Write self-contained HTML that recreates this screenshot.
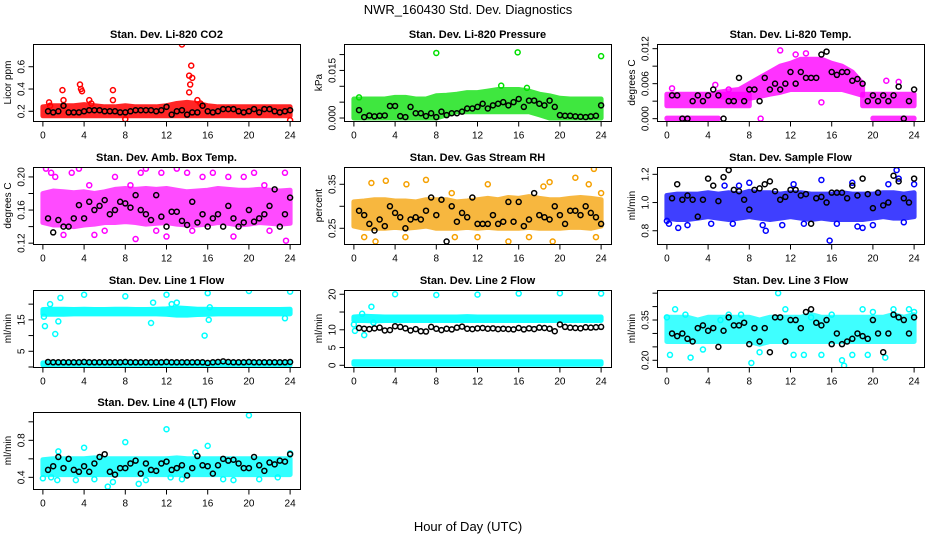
<!DOCTYPE html>
<html><head><meta charset="utf-8"><style>
body{margin:0;background:#fff;}
svg{display:block;font-family:"Liberation Sans",Arial,sans-serif;}
</style></head><body>
<svg id="chart" width="936" height="540" viewBox="0 0 936 540">
<rect width="936" height="540" fill="#fff"/>
<text x="468" y="14" text-anchor="middle" font-size="13">NWR_160430  Std. Dev. Diagnostics</text>
<text x="468" y="531" text-anchor="middle" font-size="13">Hour of Day (UTC)</text>
</svg>
<script>
// ---- shared data ----
const bandHours = [0,1,2,3,4,5,6,7,8,9,10,11,12,13,14,15,16,17,18,19,20,21,22,23,24];
const blackHours = [0.5,1,1.5,2,2.5,3,3.5,4,4.5,5,5.5,6,6.5,7,7.5,8,8.5,9,9.5,10,10.5,11,11.5,12,12.5,13,13.5,14,14.5,15,15.5,16,16.5,17,17.5,18,18.5,19,19.5,20,20.5,21,21.5,22,22.5,23,23.5,24];
const xTicks = [0,4,8,12,16,20,24];

// CO2
const co2Lo = [0.16,0.16,0.16,0.16,0.16,0.16,0.16,0.16,0.16,0.16,0.16,0.16,0.16,0.16,0.16,0.16,0.16,0.16,0.16,0.16,0.16,0.16,0.16,0.16,0.16];
const co2Hi = [0.24,0.25,0.25,0.25,0.26,0.25,0.24,0.24,0.25,0.24,0.24,0.24,0.25,0.27,0.28,0.27,0.25,0.24,0.24,0.24,0.24,0.24,0.24,0.24,0.24];
const co2OutH = [0.6,0.7,1.9,2,3.6,3.7,3.8,4.5,4.7,6.8,6.8,8,13.5,14.2,14.3,14.4,14.5,14.2,15,15.3,24];
const co2OutV = [0.28,0.25,0.39,0.3,0.44,0.4,0.38,0.3,0.27,0.39,0.3,0.13,0.8,0.52,0.44,0.61,0.5,0.37,0.3,0.27,0.12];
const co2Black = [0.2,0.19,0.2,0.25,0.19,0.19,0.19,0.2,0.21,0.21,0.21,0.2,0.2,0.2,0.19,0.19,0.2,0.21,0.21,0.21,0.21,0.2,0.21,0.24,0.17,0.2,0.21,0.17,0.19,0.19,0.25,0.2,0.19,0.2,0.22,0.22,0.22,0.2,0.19,0.2,0.22,0.19,0.22,0.22,0.2,0.19,0.2,0.21];

// Pressure
const presLo = [0,0,0,0,0,0,0,0,0,0.001,0.002,0.002,0.002,0.002,0.002,0.002,0.002,0.002,0.001,0,0,0,0,0,0];
const presHi = [0.006,0.006,0.006,0.006,0.0065,0.0065,0.006,0.006,0.007,0.0072,0.0075,0.008,0.008,0.0085,0.009,0.009,0.009,0.0085,0.0075,0.007,0.0062,0.006,0.006,0.006,0.006];
const presOutH = [8,15.9,24,14.3,0.5,16.8];
const presOutV = [0.0205,0.0207,0.0195,0.0102,0.0065,0.0095];
const presBlack = [0.0025,0.0003,0.0008,0.0005,0.0007,0.0008,0.0038,0.0038,0.0006,0.0003,0.0035,0.0015,0.0015,0.0006,0.0015,0.0003,0.002,0.0009,0.0015,0.0015,0.002,0.003,0.003,0.0035,0.0045,0.003,0.004,0.0045,0.005,0.004,0.005,0.006,0.0035,0.0055,0.0055,0.0045,0.004,0.0055,0.0035,0.0009,0.0007,0.0007,0.0005,0.0004,0.0003,0.0005,0.0007,0.004];

// Li-820 Temp (null = no data at that hour)
const tempDayLo = [null,null,null,null,null,0.0038,0.0036,0.0036,0.0035,0.0038,0.0042,0.0045,0.005,0.005,0.005,0.005,0.005,0.005,0.0045,0.004,null,null,null,null,null];
const tempDayHi = [null,null,null,null,null,0.0045,0.0048,0.005,0.006,0.007,0.008,0.009,0.0095,0.0102,0.0102,0.0102,0.0095,0.009,0.008,0.006,null,null,null,null,null];
const tempMidLo = [0.0022,0.0022,0.0022,0.0022,0.0022,0.0022,0.0022,0.0022,0.0022,null,null,null,null,null,null,null,null,null,null,0.0022,0.0022,0.0022,0.0022,0.0022,0.0022];
const tempMidHi = [0.0042,0.0042,0.0042,0.0042,0.0042,0.0042,0.0042,0.0042,0.0042,null,null,null,null,null,null,null,null,null,null,0.0042,0.0042,0.0042,0.0042,0.0042,0.0042];
const tempZeroLo = [0,0,0,0,0,0,null,null,null,null,null,null,null,null,null,null,null,null,null,null,0,0,0,0,0];
const tempZeroHi = [0.0001,0.0001,0.0001,0.0001,0.0001,0.0001,null,null,null,null,null,null,null,null,null,null,null,null,null,null,0.0001,0.0001,0.0001,0.0001,0.0001];
const tempOutH = [11,12.5,6,4.7,21.3,9.1,22.5,15,0.5,13.5];
const tempOutV = [0.0117,0.011,0.005,0.0058,0.0065,0,0.0063,0.0028,0.0052,0.0112];
const tempBlack = [0.004,0.004,0,0,0.003,0.004,0.003,0.004,0.005,0.004,0,0.003,0.003,0.007,0.003,0.005,0.005,0.003,0.007,0.005,0.006,0.005,0.006,0.008,0.006,0.008,0.007,0.007,0.007,0.011,0.0115,0.008,0.0075,0.008,0.008,0.0065,0.0068,0.006,0.003,0.004,0.003,0.004,0.003,0.004,0.0055,0,0.003,0.005];

// Amb Box Temp
const ambLo = [0.145,0.142,0.142,0.14,0.142,0.143,0.145,0.145,0.146,0.145,0.143,0.144,0.145,0.143,0.142,0.142,0.143,0.145,0.144,0.142,0.143,0.145,0.144,0.143,0.144];
const ambHi = [0.18,0.183,0.182,0.181,0.182,0.18,0.182,0.185,0.186,0.185,0.186,0.185,0.186,0.184,0.182,0.183,0.184,0.186,0.185,0.184,0.184,0.185,0.184,0.183,0.184];
const ambOutH = [0.3,0.8,1.2,2.8,3.5,5,7,8.5,9,9.5,10,11.5,12,13,14,15.5,16.5,18,18.5,19.5,20.5,21.5,23.5,23.6,2,6,14.5,22,4.5,11];
const ambOutV = [0.21,0.205,0.2,0.205,0.21,0.13,0.2,0.19,0.125,0.205,0.21,0.205,0.128,0.21,0.205,0.2,0.205,0.2,0.128,0.2,0.205,0.19,0.205,0.123,0.13,0.135,0.135,0.135,0.19,0.135];
const ambBlack = [0.15,0.133,0.148,0.14,0.14,0.15,0.166,0.15,0.17,0.16,0.165,0.172,0.155,0.16,0.17,0.168,0.163,0.178,0.16,0.155,0.148,0.178,0.152,0.14,0.158,0.158,0.147,0.142,0.17,0.145,0.155,0.14,0.15,0.155,0.14,0.165,0.15,0.14,0.145,0.16,0.146,0.15,0.155,0.165,0.185,0.14,0.155,0.175];

// Gas Stream RH
const rhLo = [0.255,0.25,0.25,0.25,0.252,0.25,0.252,0.255,0.25,0.25,0.25,0.252,0.25,0.252,0.25,0.25,0.25,0.252,0.25,0.25,0.25,0.252,0.252,0.25,0.255];
const rhHi = [0.31,0.312,0.315,0.315,0.312,0.312,0.31,0.315,0.315,0.315,0.31,0.312,0.315,0.318,0.315,0.32,0.318,0.322,0.318,0.315,0.315,0.318,0.32,0.318,0.315];
const rhOutH = [1.7,2.1,3.1,5.1,9.5,9.8,12,13,15,17,18.4,19,19.3,21.5,22.8,23.3,23.5,5,7,1,24];
const rhOutV = [0.353,0.22,0.358,0.35,0.33,0.23,0.23,0.35,0.22,0.23,0.345,0.355,0.22,0.365,0.35,0.385,0.23,0.23,0.36,0.23,0.33];
const rhBlack = [0.29,0.28,0.26,0.245,0.27,0.255,0.3,0.285,0.275,0.25,0.27,0.275,0.27,0.29,0.32,0.28,0.315,0.22,0.3,0.265,0.285,0.275,0.32,0.26,0.26,0.26,0.28,0.26,0.265,0.31,0.265,0.31,0.255,0.27,0.33,0.28,0.275,0.27,0.3,0.28,0.26,0.29,0.29,0.28,0.3,0.285,0.275,0.26];

// Sample Flow
const sfLo = [0.89,0.88,0.88,0.89,0.9,0.89,0.88,0.89,0.9,0.89,0.88,0.89,0.9,0.89,0.88,0.89,0.88,0.88,0.88,0.88,0.89,0.9,0.89,0.89,0.9];
const sfHi = [1.05,1.06,1.06,1.06,1.07,1.06,1.07,1.06,1.08,1.07,1.07,1.06,1.07,1.07,1.06,1.06,1.06,1.07,1.06,1.06,1.06,1.07,1.07,1.06,1.07];
const sfOutH = [0,0.2,1.1,2,4.3,5.6,6.4,8,9.3,9.6,11.2,12.3,13.3,15,15.8,16.5,18,18.5,19,20,21.5,22.3,22.5,23,24,7];
const sfOutV = [0.87,0.85,0.82,0.84,0.85,1.12,0.85,1.14,0.84,0.8,0.84,1.13,0.85,1.16,0.73,0.85,1.14,0.83,0.82,0.84,1.13,1.23,1.17,0.86,1.13,1.12];
const sfBlack = [1.03,1.13,1.02,1.05,1.02,0.9,1.02,1.17,1.12,1.01,1.18,1.23,1.09,1.08,1.02,0.95,1.09,1.1,1.13,1.15,1.08,1.02,1.04,1.09,1.09,1.05,1.06,0.85,1.03,1.04,1.0,1.07,1.07,1.07,1.03,1.12,1.05,1.17,1.06,0.96,1.07,0.98,1.0,1.19,1.15,1.03,1.0,1.17];

// Line 1 Flow
const l1UpLo = [16.8,16.8,16.8,16.9,16.9,16.9,16.9,16.9,16.9,16.9,16.9,16.9,16.8,16.5,16.5,16.7,16.8,16.9,16.9,16.9,16.9,16.9,16.9,16.9,16.9];
const l1UpHi = [18.3,18.4,18.4,18.3,18.4,18.3,18.3,18.4,18.4,18.3,18.3,18.4,18.5,18.8,18.6,18.4,18.4,18.3,18.3,18.3,18.3,18.3,18.3,18.3,18.4];
const l1LoLo = [0.7,0.7,0.7,0.7,0.7,0.7,0.7,0.7,0.7,0.7,0.7,0.7,0.7,0.7,0.7,0.7,0.7,0.7,0.7,0.7,0.7,0.7,0.7,0.7,0.7];
const l1LoHi = [1.3,1.3,1.3,1.3,1.3,1.3,1.3,1.3,1.3,1.3,1.3,1.3,1.3,1.3,1.3,1.3,1.3,1.3,1.3,1.3,1.3,1.3,1.3,1.3,1.3];
const l1OutH = [0.1,0.2,0.7,1.7,1.5,4,8,10.5,10.7,12,12.5,13,15.7,16,16.1,16.2,20,24,23.5,1.2];
const l1OutV = [16,13,20,22,14.5,23,22.5,14,20.5,23,20,20.5,10,23.5,15,19,24.2,24,15.5,10.5];
const l1Black = [1.6,1.5,1.5,1.5,1.5,1.5,1.5,1.6,1.5,1.5,1.5,1.5,1.5,1.5,1.5,1.6,1.5,1.5,1.5,1.5,1.5,1.5,1.5,1.6,1.5,1.5,1.5,1.5,1.5,1.5,1.5,1.3,1.5,1.6,1.8,1.6,1.5,1.5,1.5,1.6,1.5,1.5,1.5,1.5,1.5,1.5,1.5,1.6];

// Line 2 Flow
const l2UpLo = [12.6,12.6,12.5,12.6,12.6,12.6,12.6,12.6,12.6,12.6,12.6,12.6,12.6,12.6,12.6,12.6,12.6,12.6,12.6,12.6,12.6,12.6,12.6,12.6,12.6];
const l2UpHi = [13.6,13.8,13.7,13.6,13.6,13.6,13.6,13.6,13.6,13.6,13.6,13.7,13.6,13.6,13.6,13.6,13.6,13.6,13.6,13.6,13.6,13.6,13.6,13.6,13.6];
const l2LoLo = [0.3,0.3,0.3,0.3,0.3,0.3,0.3,0.3,0.3,0.3,0.3,0.3,0.3,0.3,0.3,0.3,0.3,0.3,0.3,0.3,0.3,0.3,0.3,0.3,0.3];
const l2LoHi = [1,1,1,1,1,1,1,1,1,1,1,1,1,1,1,1,1,1,1,1,1,1,1,1,1];
const l2OutH = [0,0.1,0.8,1,1.7,4,8,12,16,20,24,1.9];
const l2OutV = [11.5,9.7,14.5,8.5,16.5,20,19.8,19.9,20.2,20.3,20.2,12];
const l2Black = [10.5,10.3,10.2,10.4,10.6,9.8,9.9,11,10.8,10.4,9.8,10.2,9.6,9.5,10.8,10.3,9.9,10.3,10.1,10.6,10.9,10.3,10.2,10.4,10.5,10.3,10.4,10.2,10.3,10.2,10.1,10.5,10.1,10.4,10.2,10.6,10.5,10.3,9.6,11.5,10.8,10.6,10.5,10.4,10.7,10.6,10.7,10.8];

// Line 3 Flow
const l3Lo = [0.27,0.27,0.27,0.27,0.27,0.27,0.27,0.27,0.27,0.26,0.27,0.27,0.27,0.27,0.27,0.27,0.27,0.27,0.27,0.27,0.27,0.27,0.27,0.27,0.27];
const l3Hi = [0.36,0.36,0.36,0.35,0.36,0.36,0.36,0.36,0.36,0.35,0.36,0.36,0.36,0.36,0.37,0.36,0.36,0.36,0.36,0.36,0.36,0.36,0.37,0.36,0.37];
const l3OutH = [0,0.3,0.8,1.8,2.3,3.5,5.2,6,7.2,8.2,9,10.8,11.5,12.3,13.3,14,15,16,17,17.2,18,19,19.5,20,21.2,22,23.5,24];
const l3OutV = [0.36,0.22,0.39,0.37,0.21,0.24,0.35,0.37,0.37,0.19,0.23,0.45,0.39,0.22,0.22,0.36,0.22,0.37,0.2,0.18,0.22,0.39,0.22,0.38,0.21,0.39,0.39,0.38];
const l3Black = [0.3,0.29,0.3,0.28,0.27,0.32,0.33,0.31,0.32,0.25,0.31,0.36,0.33,0.33,0.34,0.26,0.32,0.27,0.32,0.23,0.36,0.36,0.27,0.35,0.35,0.32,0.38,0.39,0.34,0.33,0.35,0.26,0.3,0.26,0.27,0.28,0.3,0.29,0.28,0.35,0.3,0.23,0.3,0.37,0.36,0.35,0.3,0.36];

// Line 4 Flow
const l4Lo = [0.43,0.43,0.43,0.43,0.43,0.43,0.43,0.43,0.43,0.43,0.43,0.43,0.43,0.43,0.43,0.43,0.43,0.43,0.43,0.43,0.43,0.43,0.43,0.43,0.43];
const l4Hi = [0.59,0.6,0.6,0.6,0.6,0.61,0.6,0.6,0.6,0.6,0.6,0.6,0.6,0.61,0.6,0.6,0.6,0.6,0.6,0.6,0.6,0.6,0.6,0.6,0.6];
const l4OutH = [0,0.8,1.4,3.2,4,5,6.3,6.8,8,9.3,10,12,12.4,13.5,16,17.5,18.5,20,21,22.8,24,1.5,14.8];
const l4OutV = [0.39,0.4,0.37,0.37,0.72,0.38,0.3,0.35,0.78,0.33,0.37,0.92,0.4,0.38,0.74,0.38,0.37,1.07,0.38,0.4,0.66,0.68,0.67];
const l4Black = [0.48,0.52,0.62,0.5,0.6,0.48,0.46,0.52,0.46,0.55,0.62,0.65,0.46,0.43,0.5,0.5,0.55,0.58,0.44,0.55,0.48,0.47,0.55,0.57,0.48,0.5,0.53,0.42,0.5,0.63,0.53,0.52,0.44,0.53,0.6,0.58,0.59,0.55,0.5,0.5,0.62,0.53,0.47,0.56,0.54,0.58,0.57,0.65];

const panels = [
 {name:'co2',title:'Stan. Dev. Li-820 CO2',ylab:'Licor ppm',col:0,row:0,yr:[0.113,0.804],ticks:[0.2,0.4,0.6],labs:['0.2','0.4','0.6'],color:'#ff0000',op:0.85,bands:[[co2Lo,co2Hi]],oh:co2OutH,ov:co2OutV,blk:co2Black},
 {name:'pressure',title:'Stan. Dev. Li-820 Pressure',ylab:'kPa',col:1,row:0,yr:[-0.00094,0.02333],ticks:[0,0.005,0.01,0.015,0.02],labs:['0.000','','','0.015',''],color:'#00e000',op:0.75,bands:[[presLo,presHi]],oh:presOutH,ov:presOutV,blk:presBlack},
 {name:'li820-temp',title:'Stan. Dev. Li-820 Temp.',ylab:'degrees C',col:2,row:0,yr:[-0.0004,0.0128],ticks:[0,0.003,0.006,0.009,0.012],labs:['0.000','','0.006','','0.012'],color:'#ff00ff',op:0.8,bands:[[tempDayLo,tempDayHi],[tempMidLo,tempMidHi],[tempZeroLo,tempZeroHi]],oh:tempOutH,ov:tempOutV,blk:tempBlack},
 {name:'amb-box-temp',title:'Stan. Dev. Amb. Box Temp.',ylab:'degrees C',col:0,row:1,yr:[0.119,0.212],ticks:[0.12,0.14,0.16,0.18,0.2],labs:['0.12','','0.16','','0.20'],color:'#ff00ff',op:0.7,bands:[[ambLo,ambHi]],oh:ambOutH,ov:ambOutV,blk:ambBlack},
 {name:'gas-stream-rh',title:'Stan. Dev. Gas Stream RH',ylab:'percent',col:1,row:1,yr:[0.2143,0.3893],ticks:[0.25,0.3,0.35],labs:['0.25','','0.35'],color:'#f5a000',op:0.75,bands:[[rhLo,rhHi]],oh:rhOutH,ov:rhOutV,blk:rhBlack},
 {name:'sample-flow',title:'Stan. Dev. Sample Flow',ylab:'ml/min',col:2,row:1,yr:[0.706,1.252],ticks:[0.8,1.0,1.2],labs:['0.8','1.0','1.2'],color:'#0000ff',op:0.75,bands:[[sfLo,sfHi]],oh:sfOutH,ov:sfOutV,blk:sfBlack},
 {name:'line1-flow',title:'Stan. Dev. Line 1 Flow',ylab:'ml/min',col:0,row:2,yr:[0,24.5],ticks:[0,5,10,15,20],labs:['','5','','15',''],color:'#00ffff',op:0.9,bands:[[l1UpLo,l1UpHi],[l1LoLo,l1LoHi]],oh:l1OutH,ov:l1OutV,blk:l1Black},
 {name:'line2-flow',title:'Stan. Dev. Line 2 Flow',ylab:'ml/min',col:1,row:2,yr:[-0.48,21.2],ticks:[0,5,10,15,20],labs:['0','5','10','','20'],color:'#00ffff',op:0.9,bands:[[l2UpLo,l2UpHi],[l2LoLo,l2LoHi]],oh:l2OutH,ov:l2OutV,blk:l2Black},
 {name:'line3-flow',title:'Stan. Dev. Line 3 Flow',ylab:'ml/min',col:2,row:2,yr:[0.175,0.4618],ticks:[0.2,0.25,0.3,0.35,0.4,0.45],labs:['0.20','','','0.35','',''],color:'#00ffff',op:0.75,bands:[[l3Lo,l3Hi]],oh:l3OutH,ov:l3OutV,blk:l3Black},
 {name:'line4-flow',title:'Stan. Dev. Line 4 (LT) Flow',ylab:'ml/min',col:0,row:3,yr:[0.274,1.106],ticks:[0.4,0.6,0.8,1.0],labs:['0.4','','0.8',''],color:'#00ffff',op:0.8,bands:[[l4Lo,l4Hi]],oh:l4OutH,ov:l4OutV,blk:l4Black}
];

const NS='http://www.w3.org/2000/svg';
const svg=document.getElementById('chart');
const colX=[33,344,657], rowY=[44,167,290,412], PW=267, PH=77;
function mk(tag,attrs,parent){const e=document.createElementNS(NS,tag);for(const k in attrs)e.setAttribute(k,attrs[k]);parent.appendChild(e);return e;}

panels.forEach(p=>{
  const x0=colX[p.col], y0=rowY[p.row];
  const xs=h=>x0+PW*(h+0.96)/25.92;
  const ys=v=>y0+PH-PH*(v-p.yr[0])/(p.yr[1]-p.yr[0]);
  const g=mk('g',{},svg);
  
  
  const clipId='clip-'+p.name;
  const cp=mk('clipPath',{id:clipId},g);
  mk('rect',{x:x0,y:y0,width:PW,height:PH},cp);
  const plot=mk('g',{'clip-path':'url(#'+clipId+')'},g);
  
  
  // bands (split into contiguous non-null segments)
  p.bands.forEach(b=>{
    let seg=[];
    const segs=[];
    bandHours.forEach((h,i)=>{
      if(b[0][i]===null||b[1][i]===null){ if(seg.length) segs.push(seg); seg=[]; }
      else seg.push(i);
    });
    if(seg.length) segs.push(seg);
    segs.forEach(s=>{
      let pts=[];
      s.forEach(i=>pts.push(xs(bandHours[i]).toFixed(1)+','+ys(b[1][i]).toFixed(1)));
      for(let k=s.length-1;k>=0;k--){const i=s[k];pts.push(xs(bandHours[i]).toFixed(1)+','+ys(b[0][i]).toFixed(1));}
      const poly=mk('polygon',{points:pts.join(' '),fill:p.color,stroke:p.color,'stroke-width':5,'stroke-linejoin':'round',opacity:p.op},plot);
      
      
    });
  });
  // outlier points
  p.oh.forEach((h,i)=>{
    const c=mk('circle',{cx:xs(h),cy:ys(p.ov[i]),r:2.5,fill:'none',stroke:p.color,'stroke-width':1.5},plot);
    
    
  });
  // black points
  p.blk.forEach((v,i)=>{
    const c=mk('circle',{cx:xs(blackHours[i]),cy:ys(v),r:2.5,fill:'none',stroke:'#000','stroke-width':1.5},plot);
    
    
  });
  // box
  const box=mk('rect',{x:x0+0.5,y:y0+0.5,width:PW,height:PH,fill:'none',stroke:'#000','stroke-width':1},g);
  
  
  // x axis
  const xb=y0+PH+0.5;
  const xa=mk('g',{},g);
  
  
  mk('line',{x1:xs(0),x2:xs(24),y1:xb,y2:xb,stroke:'#000'},xa);
  xTicks.forEach(t=>{
    mk('line',{x1:xs(t),x2:xs(t),y1:xb,y2:xb+5,stroke:'#000'},xa);
    const tx=mk('text',{x:xs(t),y:xb+17,'text-anchor':'middle','font-size':10},xa);
    tx.textContent=String(t);
    
    
  });
  // y axis
  const ya=mk('g',{},g);
  
  
  const xl=x0+0.5;
  mk('line',{x1:xl,x2:xl,y1:ys(p.ticks[0]),y2:ys(p.ticks[p.ticks.length-1]),stroke:'#000'},ya);
  p.ticks.forEach((t,i)=>{
    const yy=ys(t);
    mk('line',{x1:xl-5,x2:xl,y1:yy,y2:yy,stroke:'#000'},ya);
    if(p.labs[i]){
      const tx=mk('text',{x:xl-9,y:yy,'text-anchor':'middle','font-size':10,transform:'rotate(-90 '+(xl-9)+' '+yy+')'},ya);
      tx.textContent=p.labs[i];
      
      
    }
  });
  const yl=mk('text',{x:x0-22,y:y0+PH/2,'text-anchor':'middle','font-size':10,transform:'rotate(-90 '+(x0-22)+' '+(y0+PH/2)+')'},g);
  yl.textContent=p.ylab;
  
  
  const tt=mk('text',{x:x0+PW/2,y:y0-6,'text-anchor':'middle','font-size':11,'font-weight':'bold'},g);
  tt.textContent=p.title;
  
  
});
</script>
</body></html>
